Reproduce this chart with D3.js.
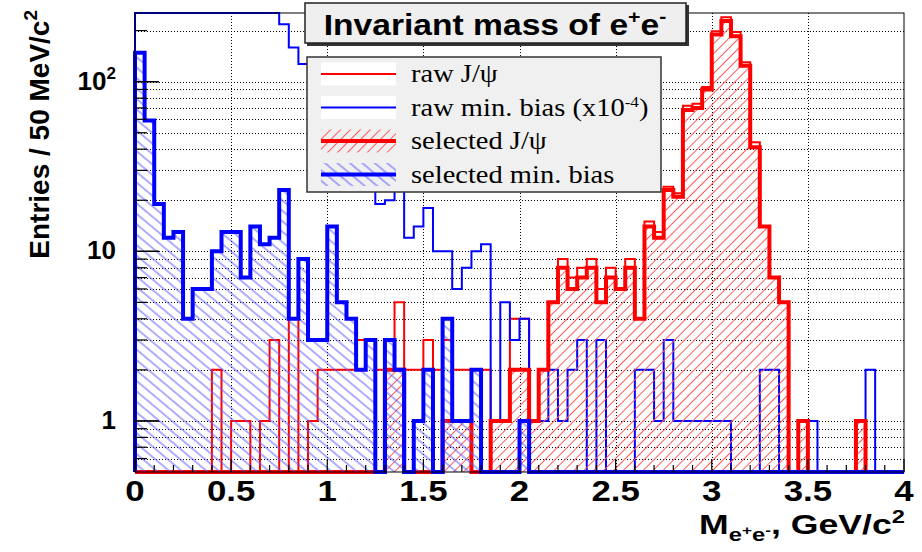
<!DOCTYPE html>
<html>
<head>
<meta charset="utf-8">
<script src="https://cdn.jsdelivr.net/npm/d3@7"></script>
<style>
  body { margin: 0; background: #fff; }
</style>
</head>
<body>
<svg id="chart" width="922" height="552"></svg>
<script>
// ---- data: e+e- invariant mass, 80 bins of 50 MeV/c^2 from 0 to 4 GeV/c^2 ----
const binWidth = 0.05;

const rawJpsi = [
  0, 0, 0, 0, 0, 0, 0, 0, 2, 0,
  1, 1, 0, 1, 3, 0, 4, 0, 1, 2,
  2, 2, 2, 3, 3, 2, 2, 5, 2, 2,
  3, 2, 3, 2, 2, 2, 2, 1, 1, 4,
  4, 1, 2, 5, 9, 7, 8, 9, 6, 8,
  6, 9, 4, 15, 13, 24, 22, 72, 74, 93,
  198, 240, 196, 130, 44, 14, 7, 5, 0, 1,
  0, 0, 0, 0, 0, 1, 0, 0, 0, 0
];

// raw minimum-bias spectrum, scaled by 1e-4
const rawMinBias = [
  2400, 1900, 1500, 1200, 1000, 850, 720, 620, 540, 480,
  420, 380, 340, 300, 270, 218, 159, 127, 100, 80,
  62, 50, 40, 32, 26, 19, 20, 26, 12, 14,
  18, 10, 10, 6, 8, 10, 11, 1, 5, 3,
  4, 1, 1, 2, 1, 2, 3, 0, 3, 0,
  0, 0, 2, 2, 1, 3, 1, 1, 1, 1,
  1, 1, 0, 0, 0, 2, 2, 0, 0, 1,
  1, 0, 0, 0, 0, 0, 2, 0, 0, 0
];

const selJpsi = [
  0, 0, 0, 0, 0, 0, 0, 0, 0, 0,
  0, 0, 0, 0, 0, 0, 0, 0, 0, 0,
  0, 0, 0, 0, 0, 0, 2, 2, 0, 0,
  0, 0, 1, 1, 1, 0, 0, 1, 1, 2,
  2, 1, 2, 5, 8, 6, 7, 8, 5, 7,
  6, 8, 4, 14, 12, 23, 21, 68, 70, 90,
  190, 228, 185, 124, 41, 14, 7, 5, 0, 1,
  0, 0, 0, 0, 0, 1, 0, 0, 0, 0
];

const selMinBias = [
  148, 59, 19, 12, 13, 4, 6, 6, 10, 13,
  13, 7, 14, 11, 12, 23, 4, 9, 3, 3,
  14, 5, 4, 2, 3, 0, 3, 2, 0, 1,
  2, 0, 4, 1, 1, 2, 0, 0, 0, 0,
  1, 0, 0, 0, 0, 0, 0, 0, 0, 0,
  0, 0, 0, 0, 0, 0, 0, 0, 0, 0,
  0, 0, 0, 0, 0, 0, 0, 0, 0, 0,
  0, 0, 0, 0, 0, 0, 0, 0, 0, 0
];

const xTickValues = [0, 0.5, 1, 1.5, 2, 2.5, 3, 3.5, 4];
const xTickLabels = ["0", "0.5", "1", "1.5", "2", "2.5", "3", "3.5", "4"];
const yTickValues = [1, 10, 100];
const yTickLabels = [[{ t: "1" }], [{ t: "10" }], [{ t: "10" }, { t: "2", size: 17, off: -11 }]];

const titleParts = [
  { t: "Invariant mass of e" }, { t: "+", size: 19, off: -12 },
  { t: "e", off: 0 }, { t: "-", size: 19, off: -12 }
];
const xTitleParts = [
  { t: "M" }, { t: "e", size: 18, off: 7 }, { t: "+", size: 13, off: 1 },
  { t: "e", size: 18, off: 7 }, { t: "-", size: 13, off: 1 },
  { t: ", GeV/c", off: 0 }, { t: "2", size: 18, off: -11 }
];
const yTitleParts = [{ t: "Entries / 50 MeV/c" }, { t: "2", size: 19, off: -12 }];

const legendLabels = [
  [{ t: "raw J/ψ" }],
  [{ t: "raw min. bias (x10" }, { t: "-4", size: 15, off: -9 }, { t: ")", off: 0 }],
  [{ t: "selected J/ψ" }],
  [{ t: "selected min. bias" }]
];

const sans = "'Liberation Sans', Arial, Helvetica, sans-serif";
const serif = "'Liberation Serif', 'Times New Roman', serif";

// ---- scales ----
const yMin = 0.5, yMax = 254;
const x = d3.scaleLinear().domain([0, 4]).range([135, 904]);
const y = d3.scaleLog().domain([yMin, yMax]).range([472, 13]);
const Y = v => y(Math.min(Math.max(v, yMin), yMax));

const svg = d3.select("#chart");
svg.append("rect").attr("width", 922).attr("height", 552).attr("fill", "#fff");

// ---- hatch patterns ----
const defs = svg.append("defs");
function hatch(id, color, angle, gap) {
  const p = defs.append("pattern")
    .attr("id", id).attr("patternUnits", "userSpaceOnUse")
    .attr("width", gap).attr("height", gap)
    .attr("patternTransform", `rotate(${angle})`);
  p.append("line").attr("x1", 0).attr("y1", gap / 2).attr("x2", gap).attr("y2", gap / 2)
    .attr("stroke", color).attr("stroke-width", 1);
}
hatch("hatchRed", "#ff5c5c", -45, 7);
hatch("hatchBlue", "#5c5cff", 40, 8);

// ---- grid ----
const grid = svg.append("g").attr("stroke", "#000").attr("stroke-width", 1)
  .attr("stroke-dasharray", "1,2").attr("fill", "none");
xTickValues.filter(v => v > 0 && v < 4).forEach(v => {
  const px = Math.round(x(v)) + 0.5;
  grid.append("line").attr("x1", px).attr("x2", px).attr("y1", 13).attr("y2", 472);
});
const yGridValues = [];
[0.1, 1, 10, 100].forEach(d => { for (let k = 1; k <= 9; k++) { const v = k * d; if (v > yMin && v < yMax) yGridValues.push(v); } });
yGridValues.forEach(v => {
  const py = Math.round(y(v)) + 0.5;
  grid.append("line").attr("x1", 135).attr("x2", 904).attr("y1", py).attr("y2", py);
});

// ---- histograms ----
function outlinePoints(vals) {
  const pts = [[x(0), Y(0)]];
  vals.forEach((v, i) => {
    pts.push([x(i * binWidth), Y(v)], [x((i + 1) * binWidth), Y(v)]);
  });
  pts.push([x(vals.length * binWidth), Y(0)]);
  return pts;
}
const line = d3.line();
function drawHist(vals, color, width, fillId) {
  const pts = outlinePoints(vals);
  if (fillId) {
    svg.append("path").attr("d", line(pts) + "Z").attr("fill", `url(#${fillId})`).attr("stroke", "none");
  }
  svg.append("path").attr("d", line(pts)).attr("fill", "none")
    .attr("stroke", color).attr("stroke-width", width).attr("stroke-linejoin", "miter");
}
drawHist(rawJpsi, "#ff0000", 2, null);
drawHist(rawMinBias, "#0000ff", 2, null);
drawHist(selJpsi, "#ff0000", 4, "hatchRed");
drawHist(selMinBias, "#0000ff", 4, "hatchBlue");

// ---- frame and ticks ----
svg.append("rect").attr("x", 135).attr("y", 13).attr("width", 769).attr("height", 459)
  .attr("fill", "none").attr("stroke", "#000").attr("stroke-width", 1);

const ticks = svg.append("g").attr("stroke", "#000").attr("stroke-width", 1.2);
d3.range(0, 41).forEach(k => {
  const v = k / 10;
  const major = k % 5 === 0;
  const px = x(v);
  ticks.append("line").attr("x1", px).attr("x2", px).attr("y1", 472).attr("y2", 472 - (major ? 13 : 7));
});
yGridValues.concat(yTickValues).forEach(v => {
  const major = yTickValues.includes(v);
  const py = y(v);
  ticks.append("line").attr("x1", 135).attr("x2", 135 + (major ? 24 : 12)).attr("y1", py).attr("y2", py);
});

// ---- text helper ----
function rich(textSel, parts, baseSize) {
  let cur = 0;
  parts.forEach(p => {
    const off = p.off !== undefined ? p.off : cur;
    textSel.append("tspan").attr("font-size", p.size || baseSize).attr("dy", off - cur).text(p.t);
    cur = off;
  });
  return textSel;
}

// x tick labels
xTickValues.forEach((v, i) => {
  svg.append("g").attr("transform", `translate(${x(v)},501)`)
    .append("text").attr("transform", "scale(1.2,1)")
    .attr("text-anchor", "middle").attr("font-family", sans)
    .attr("font-weight", "bold").attr("font-size", 29)
    .text(xTickLabels[i]);
});
// y tick labels
yTickValues.forEach((v, i) => {
  const t = svg.append("text").attr("x", 116).attr("y", y(v) + 8)
    .attr("text-anchor", "end").attr("font-family", sans)
    .attr("font-weight", "bold").attr("font-size", 26);
  rich(t, yTickLabels[i], 26);
});

// axis titles
rich(svg.append("g").attr("transform", "translate(905,534)")
  .append("text").attr("transform", "scale(1.32,1)").attr("text-anchor", "end")
  .attr("font-family", sans).attr("font-weight", "bold").attr("font-size", 27), xTitleParts, 27);

rich(svg.append("text").attr("transform", "translate(49,10) rotate(-90)")
  .attr("text-anchor", "end").attr("font-family", sans)
  .attr("font-weight", "bold").attr("font-size", 28), yTitleParts, 28);

// ---- title box ----
svg.append("rect").attr("x", 307).attr("y", 5).attr("width", 382).attr("height", 41).attr("fill", "#333");
svg.append("rect").attr("x", 305).attr("y", 3).attr("width", 381).attr("height", 40)
  .attr("fill", "#efefef").attr("stroke", "#222").attr("stroke-width", 1.5);
rich(svg.append("g").attr("transform", "translate(495,35)")
  .append("text").attr("transform", "scale(1.12,1)").attr("text-anchor", "middle")
  .attr("font-family", sans).attr("font-weight", "bold").attr("font-size", 30), titleParts, 30);

// ---- legend ----
svg.append("rect").attr("x", 307).attr("y", 57).attr("width", 354).attr("height", 135)
  .attr("fill", "#f0f0f0").attr("stroke", "#333").attr("stroke-width", 1.5);
const legendStyles = [
  { color: "#ff0000", width: 2, fill: "#fff" },
  { color: "#0000ff", width: 2, fill: "#fff" },
  { color: "#ff0000", width: 4, fill: "url(#hatchRed)" },
  { color: "#0000ff", width: 4, fill: "url(#hatchBlue)" }
];
const legendRows = [74, 107.5, 141, 174.5];
legendRows.forEach((cy, i) => {
  const s = legendStyles[i];
  svg.append("rect").attr("x", 321).attr("y", cy - 11.5).attr("width", 75).attr("height", 23)
    .attr("fill", s.fill);
  svg.append("line").attr("x1", 321).attr("x2", 396).attr("y1", cy).attr("y2", cy)
    .attr("stroke", s.color).attr("stroke-width", s.width);
  const t = svg.append("g").attr("transform", `translate(411,${cy + 8})`)
    .append("text").attr("transform", "scale(1.14,1)")
    .attr("font-family", serif).attr("font-size", 25);
  rich(t, legendLabels[i], 25);
});
</script>
</body>
</html>
